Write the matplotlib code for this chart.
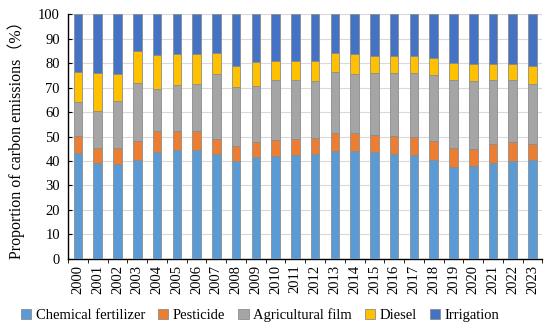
import matplotlib
matplotlib.use('Agg')
import matplotlib.pyplot as plt
import numpy as np

years = [str(y) for y in range(2000, 2024)]

fertilizer = [43.3, 39.3, 38.8, 40.3, 43.5, 44.4, 44.4, 42.9, 40.1, 41.6, 42.0, 42.4,
              42.9, 44.1, 44.1, 43.5, 42.7, 42.3, 40.3, 37.7, 38.1, 39.3, 40.1, 40.4]
pesticide = [6.8, 6.1, 6.6, 7.9, 8.6, 7.7, 7.7, 6.1, 6.2, 6.3, 6.7, 6.7,
             6.6, 7.2, 7.2, 7.0, 7.4, 7.4, 7.9, 7.7, 6.9, 7.6, 7.7, 6.5]
film = [13.8, 15.0, 19.0, 23.6, 17.4, 18.9, 19.5, 26.4, 23.9, 22.7, 24.4, 24.0,
        23.2, 24.9, 24.1, 25.3, 25.7, 26.1, 26.8, 27.5, 27.5, 26.0, 25.1, 24.5]
diesel = [12.4, 15.7, 11.2, 13.2, 13.9, 12.8, 12.2, 8.8, 8.6, 9.7, 7.7, 7.7,
          8.0, 8.0, 8.4, 7.2, 7.2, 7.2, 6.9, 7.0, 7.0, 6.6, 6.6, 7.2]
irrigation = [23.7, 23.9, 24.4, 15.0, 16.6, 16.2, 16.2, 15.8, 21.2, 19.7, 19.2, 19.2,
              19.3, 15.8, 16.2, 17.0, 17.0, 17.0, 18.1, 20.1, 20.5, 20.5, 20.5, 21.4]

series = {
    'Chemical fertilizer': (fertilizer, '#5B9BD5'),
    'Pesticide': (pesticide, '#ED7D31'),
    'Agricultural film': (film, '#A5A5A5'),
    'Diesel': (diesel, '#FFC000'),
    'Irrigation': (irrigation, '#4472C4'),
}

plt.rcParams['font.family'] = ['Liberation Serif', 'Noto Sans CJK SC']

fig = plt.figure(figsize=(5.5, 3.35), dpi=100)
ax = fig.add_axes([0.124, 0.227, 0.862, 0.731])

x = np.arange(len(years))
bottom = np.zeros(len(years))
for name, (vals, color) in series.items():
    vals = np.array(vals)
    ax.bar(x, vals, 0.44, bottom=bottom, color=color, edgecolor='#8c8c8c',
           linewidth=0.6, label=name, zorder=3)
    bottom += vals

ax.set_xlim(-0.5, len(years) - 0.5)
ax.set_ylim(0, 100)
ax.set_yticks(range(0, 101, 10))
ax.yaxis.grid(True, color='#d9d9d9', linewidth=0.8, zorder=0)
ax.tick_params(axis='y', direction='in', length=3, labelsize=10.5, pad=6)

ax.set_xticks(x)
ax.set_xticklabels(years, rotation=90, fontsize=10.5)
ax.set_xticks(np.arange(-0.5, len(years)), minor=True)
ax.tick_params(axis='x', which='major', length=0, pad=4)
ax.tick_params(axis='x', which='minor', length=3, direction='out')

for side in ['top', 'right']:
    ax.spines[side].set_visible(False)
for side in ['left', 'bottom']:
    ax.spines[side].set_color('#000000')
    ax.spines[side].set_linewidth(1.0)

ax.set_ylabel('Proportion of carbon emissions（%）', fontsize=11.5, labelpad=9)

fig.legend(loc='lower center', bbox_to_anchor=(0.473, 0.0), ncol=5, frameon=False,
           fontsize=10.5, handlelength=0.7, handleheight=0.7, handletextpad=0.3,
           columnspacing=0.9)

fig.savefig('out.png', dpi=100)
